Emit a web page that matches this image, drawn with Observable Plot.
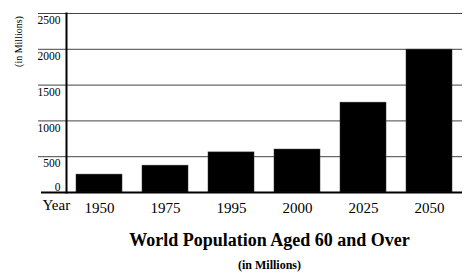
<!DOCTYPE html>
<html>
<head>
<meta charset="utf-8">
<script src="https://cdn.jsdelivr.net/npm/d3@7"></script>
<script src="https://cdn.jsdelivr.net/npm/@observablehq/plot@0.6"></script>
<style>
  html, body { margin: 0; padding: 0; background: #fff; }
  #wrap { position: relative; width: 463px; height: 274px; font-family: "Liberation Serif", "DejaVu Serif", serif; }
  #chart { position: absolute; left: 0; top: 0; }
  .title { position: absolute; left: 76px; width: 387px; text-align: center; font-weight: bold; color: #000; white-space: nowrap; }
  #t1 { top: 230px; font-size: 18px; }
  #t2 { top: 258px; font-size: 12px; }
</style>
</head>
<body>
<div id="wrap">
  <div id="chart"></div>
  <div class="title" id="t1"></div>
  <div class="title" id="t2"></div>
</div>
<script>
const years = ["1950", "1975", "1995", "2000", "2025", "2050"];
const population = [250, 375, 560, 600, 1255, 1995];
const yTicks = [500, 1000, 1500, 2000, 2500];
const yLabel = "(in Millions)";
const xLabel = "Year";
const title = "World Population Aged 60 and Over";
const subtitle = "(in Millions)";

const data = years.map((y, i) => ({year: y, value: population[i]}));

const chart = Plot.plot({
  width: 463,
  height: 222,
  marginTop: 13,
  marginBottom: 30,
  marginLeft: 66,
  marginRight: 1,
  style: {fontFamily: "'Liberation Serif', serif", color: "#000", background: "#fff"},
  x: {domain: years, paddingInner: 0.3, paddingOuter: 0.15, align: 0.5},
  y: {domain: [0, 2500]},
  marks: [
    Plot.ruleY(yTicks, {stroke: "#444", strokeWidth: 1, insetLeft: -28}),
    Plot.barY(data, {x: "year", y: "value", fill: "#000", stroke: "#333", strokeWidth: 0.5}),
    Plot.ruleY([0], {stroke: "#000", strokeWidth: 2, insetLeft: -25}),
    Plot.frame({anchor: "left", stroke: "#000", strokeWidth: 2}),
    Plot.axisY(yTicks, {anchor: "left", tickSize: 0, tickPadding: 6, dy: 7, fontSize: 11.5, label: null, tickFormat: (d) => String(d)}),
    Plot.axisY([0], {anchor: "left", tickSize: 0, tickPadding: 6, dy: -5, fontSize: 11.5, label: null, tickFormat: (d) => String(d)}),
    Plot.axisX({anchor: "bottom", tickSize: 0, tickPadding: 10, fontSize: 15, label: null}),
    Plot.text([xLabel], {frameAnchor: "bottom-left", dx: -24, dy: 17, textAnchor: "start", fontSize: 15}),
    Plot.text([yLabel], {frameAnchor: "top-left", dx: -52, dy: 28, rotate: -90, textAnchor: "middle", fontSize: 10})
  ]
});
document.getElementById("chart").appendChild(chart);
document.getElementById("t1").textContent = title;
document.getElementById("t2").textContent = subtitle;
</script>
</body>
</html>
